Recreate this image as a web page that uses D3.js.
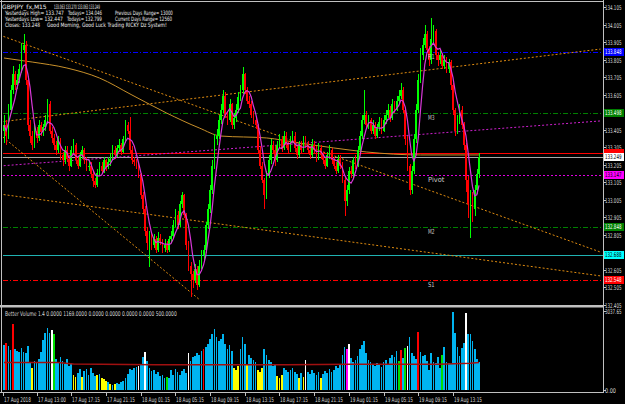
<!DOCTYPE html>
<html>
<head>
<meta charset="utf-8">
<script src="https://cdn.jsdelivr.net/npm/d3@7"></script>
<style>
html, body { margin: 0; padding: 0; background: #000; }
svg { display: block; }
text { font-family: "DejaVu Sans", sans-serif; }
</style>
</head>
<body>
<svg id="chart" width="625" height="404"></svg>
<script>
// GBPJPY M15 candles (open = previous close)
const firstOpen = 133.40;
const closes = [
    133.43,133.37,133.52,133.63,133.72,133.66,133.69,133.75,133.86,133.89,
    133.69,133.43,133.37,133.32,133.40,133.36,133.43,133.39,133.42,133.46,
    133.55,133.40,133.36,133.32,133.29,133.35,133.26,133.23,133.29,133.24,
    133.20,133.29,133.32,133.23,133.20,133.26,133.29,133.23,133.19,133.20,
    133.15,133.11,133.09,133.16,133.20,133.17,133.23,133.19,133.22,133.24,
    133.29,133.26,133.30,133.32,133.28,133.35,133.43,133.40,133.29,133.23,
    133.22,133.20,133.15,133.03,132.95,132.83,132.76,132.80,132.75,132.78,
    132.72,132.79,132.77,132.73,132.75,132.72,132.78,132.80,132.86,132.92,
    132.86,132.98,133.03,132.92,132.75,132.63,132.58,132.55,132.61,132.52,
    132.63,132.69,132.72,132.86,132.95,133.06,133.20,133.35,133.37,133.46,
    133.52,133.60,133.49,133.46,133.55,133.43,133.47,133.52,133.59,133.63,
    133.72,133.63,133.57,133.55,133.49,133.46,133.43,133.29,133.20,133.12,
    133.03,133.15,133.23,133.32,133.29,133.23,133.32,133.35,133.30,133.37,
    133.32,133.29,133.35,133.37,133.30,133.26,133.32,133.29,133.35,133.32,
    133.29,133.26,133.32,133.29,133.24,133.30,133.26,133.23,133.20,133.26,
    133.29,133.23,133.20,133.17,133.24,133.20,133.12,133.00,133.06,133.17,
    133.15,133.23,133.20,133.29,133.37,133.46,133.49,133.43,133.46,133.40,
    133.43,133.37,133.42,133.45,133.40,133.46,133.49,133.52,133.47,133.55,
    133.52,133.57,133.60,133.63,133.52,133.35,133.20,133.06,133.17,133.35,
    133.52,133.69,133.83,133.89,133.95,133.86,133.80,133.92,133.97,133.83,
    133.80,133.83,133.77,133.80,133.75,133.79,133.66,133.52,133.40,133.46,
    133.52,133.43,133.32,133.12,132.98,133.03,132.95,133.06,133.15,133.249
];
const highs = [
    133.49,133.46,133.55,133.66,133.77,133.74,133.72,133.78,133.90,133.95,
    133.91,133.71,133.46,133.40,133.43,133.42,133.46,133.45,133.44,133.49,
    133.58,133.57,133.42,133.38,133.34,133.37,133.36,133.28,133.31,133.31,
    133.26,133.31,133.35,133.33,133.25,133.28,133.31,133.30,133.25,133.23,
    133.22,133.17,133.13,133.18,133.22,133.22,133.25,133.24,133.25,133.27,
    133.32,133.31,133.32,133.35,133.33,133.37,133.46,133.45,133.48,133.31,
    133.25,133.24,133.22,133.16,133.05,132.97,132.85,132.83,132.82,132.81,
    132.80,132.82,132.81,132.78,132.78,132.77,132.80,132.83,132.89,132.95,
    132.94,133.00,133.05,133.04,132.93,132.77,132.65,132.60,132.64,132.63,
    132.66,132.72,132.75,132.88,132.98,133.09,133.23,133.38,133.41,133.49,
    133.55,133.63,133.62,133.51,133.58,133.56,133.50,133.55,133.62,133.66,
    133.76,133.73,133.65,133.60,133.57,133.51,133.48,133.44,133.31,133.22,
    133.13,133.17,133.26,133.35,133.34,133.31,133.34,133.38,133.37,133.40,
    133.39,133.34,133.37,133.40,133.39,133.32,133.34,133.34,133.37,133.37,
    133.34,133.31,133.35,133.34,133.31,133.33,133.32,133.28,133.25,133.28,
    133.32,133.30,133.25,133.22,133.26,133.26,133.22,133.14,133.09,133.19,
    133.20,133.25,133.26,133.31,133.40,133.49,133.63,133.51,133.49,133.47,
    133.46,133.45,133.44,133.48,133.47,133.49,133.52,133.55,133.54,133.58,
    133.57,133.60,133.63,133.67,133.65,133.53,133.37,133.21,133.20,133.38,
    133.55,133.72,133.87,133.93,134.00,133.97,133.88,134.04,134.00,133.98,
    133.85,133.86,133.84,133.83,133.82,133.81,133.80,133.67,133.53,133.49,
    133.55,133.54,133.45,133.33,133.14,133.06,133.05,133.09,133.18,133.27
];
const lows = [
    133.33,133.32,133.35,133.50,133.61,133.63,133.64,133.67,133.73,133.84,
    133.66,133.40,133.33,133.29,133.30,133.33,133.34,133.37,133.37,133.40,
    133.44,133.38,133.33,133.29,133.26,133.27,133.23,133.20,133.21,133.22,
    133.17,133.19,133.27,133.21,133.18,133.19,133.24,133.21,133.17,133.17,
    133.13,133.08,133.07,133.08,133.14,133.15,133.16,133.17,133.18,133.20,
    133.23,133.24,133.25,133.28,133.26,133.27,133.33,133.38,133.27,133.21,
    133.20,133.18,133.13,133.01,132.93,132.80,132.72,132.62,132.72,132.73,
    132.70,132.71,132.75,132.70,132.71,132.70,132.71,132.76,132.79,132.85,
    132.84,132.85,132.96,132.90,132.72,132.60,132.45,132.50,132.53,132.49,
    132.51,132.61,132.66,132.70,132.84,132.93,133.04,133.18,133.32,133.35,
    133.44,133.50,133.47,133.43,133.45,133.41,133.41,133.45,133.50,133.57,
    133.61,133.61,133.55,133.53,133.47,133.44,133.41,133.27,133.18,133.10,
    132.95,133.01,133.13,133.21,133.27,133.20,133.22,133.30,133.28,133.29,
    133.30,133.27,133.28,133.33,133.28,133.24,133.25,133.27,133.28,133.30,
    133.27,133.24,133.25,133.27,133.22,133.23,133.24,133.21,133.18,133.19,
    133.24,133.21,133.18,133.15,133.16,133.18,133.10,132.91,132.97,133.04,
    133.13,133.13,133.18,133.19,133.27,133.35,133.44,133.41,133.41,133.38,
    133.38,133.35,133.36,133.40,133.38,133.39,133.44,133.47,133.45,133.46,
    133.50,133.51,133.55,133.58,133.50,133.32,133.17,133.03,133.04,133.15,
    133.33,133.50,133.67,133.80,133.87,133.84,133.77,133.78,133.90,133.80,
    133.77,133.78,133.75,133.75,133.73,133.73,133.63,133.49,133.37,133.38,
    133.44,133.41,133.29,133.05,132.90,132.79,132.88,132.91,133.04,133.13
];

// Better Volume bars
const volumes = [
    1716,1794,1677,1521,2535,1560,1482,1443,1599,1443,
    1404,1677,1053,858,1131,1053,1209,1443,1911,2184,
    2379,2184,2301,2145,1209,1053,1287,1131,1014,1209,
    936,1053,585,507,663,819,507,741,819,585,
    858,663,546,585,624,468,429,351,312,234,
    195,234,273,234,312,351,468,624,819,780,
    858,897,936,1014,1287,1443,1131,858,741,780,
    624,702,546,585,468,507,468,780,585,819,
    702,585,741,819,663,1404,1131,1287,1326,1404,
    1365,1482,1560,1638,1755,1950,2145,2340,2028,1872,
    1950,2145,1755,1560,1716,1482,858,780,936,1560,
    2028,1755,975,1365,1248,1170,1092,780,702,858,
    1560,1365,1170,1092,936,1014,546,468,585,858,
    780,702,780,858,702,624,468,663,507,1170,
    702,624,780,663,585,702,468,624,741,663,
    819,702,780,936,858,1014,1365,1638,1560,1755,
    1248,1092,1170,1326,1560,1716,1872,1404,1170,1092,
    1014,936,1053,975,897,1092,1170,1014,1248,1365,
    1287,1482,1131,1521,1248,1599,1677,2028,1404,1326,
    1209,2223,1443,1326,1365,1131,780,1404,1092,1053,
    1287,858,1365,1638,1092,1053,1014,3003,2184,1638,
    1326,1599,1794,2964,2145,2145,1872,1560,1209,1092
];
const volRed = [1, 4, 92, 183, 191];
const volYellow = [13, 32, 33, 36, 43, 45, 46, 47, 49, 51, 106, 107, 108, 112, 117, 118, 119, 126, 127, 128, 136, 138, 146];
const volWhite = [22, 62, 65, 85, 139, 159, 186, 213];
const volGreen = [23, 75, 182, 185, 202];
const volMagenta = [158];
// flat red average line of the volume window: [bar, volume]
const volAverage = [[0, 1053], [25, 1053], [32, 1000], [70, 975], [130, 975], [160, 990], [200, 990], [215, 1030], [219, 1053]];

// slow moving average (orange curve): [bar, price]
const slowAverage = [[0, 133.814], [13, 133.791], [29, 133.757], [44, 133.700], [59, 133.603], [75, 133.500], [90, 133.415], [100, 133.369], [121, 133.358], [136, 133.329], [152, 133.301], [167, 133.278], [192, 133.261], [219, 133.261]];

// trend lines: [bar1, price1, bar2, price2]
const orangeLines = [
    [-2, 133.945, 275, 132.707],
    [-2, 133.449, 275, 133.865],
    [-0.5, 133.363, 90.3, 132.434],
    [-2, 133.038, 275, 132.571]
];
const magentaLine = [-2, 133.198, 275, 133.455];

// pivot levels and price lines
const levelNames = ['R1', 'M3', '', '', 'Pivot', 'M2', '', 'S1'];
const levelValues = [133.848, 133.498, 133.270, 133.249, 133.147, 132.848, 132.688, 132.548];
const levelColors = ['#0000ff', '#008000', '#ff0000', '#a8a8a8', '#e000e0', '#008000', '#20b2b2', '#ff0000'];
const levelDash = ['5,2,1,2', '5,2,1,2', null, null, '2,2', '5,2,1,2', null, '5,2,1,2'];
const levelBoxes = ['#0000ff', '#008000', '#ff0000', '#ffffff', '#ff00ff', '#008000', '#00ffff', '#ff0000'];
const levelBoxText = ['#ffffff', '#ffffff', null, '#000000', '#000000', '#ffffff', '#000000', '#ffffff'];

const priceTicks = [134.105, 134.005, 133.905, 133.805, 133.705, 133.605, 133.505, 133.405, 133.305, 133.205, 133.105, 133.005, 132.905, 132.805, 132.705, 132.605, 132.505, 132.405];
const timeTickBars = [0, 15, 31, 47, 63, 79, 95, 111, 127, 143, 159, 175, 191, 207];
const timeLabels = ['17 Aug 2018', '17 Aug 13:00', '17 Aug 17:15', '17 Aug 21:15', '18 Aug 01:15', '18 Aug 05:15', '18 Aug 09:15', '18 Aug 13:15', '18 Aug 17:15', '18 Aug 21:15', '19 Aug 01:15', '19 Aug 05:15', '19 Aug 09:15', '19 Aug 13:15'];
const volTicks = [3037.65, 0];

const headerLines = [
    ['GBPJPY_fx,M15', 2, 8.5, 47],
    ['133.063 133.270 133.063 133.249', 54, 8.5, 46],
    ['Yesterdays High= 133.747', 5, 14.5, 59],
    ['Todays=   134.046', 68, 14.5, 34],
    ['Previous Days Range= 13000', 115, 14.5, 58],
    ['Yesterdays Low= 132.447', 5, 20.5, 58],
    ['Todays=   132.799', 67, 20.5, 35],
    ['Current Days Range= 12560', 115, 20.5, 57],
    ['Closes: 133.248', 5, 26.5, 35],
    ['Good Morning, Good Luck Trading RICKY Dz System!', 47, 26.5, 120]
];

const p = {
    left: 3, right: 603,
    mainTop: 2, mainBottom: 305,
    volTop: 308, volBottom: 392,
    frame: '#c0c0c0',
    text: '#d8d8d8',
    up: '#00ff00', down: '#ff0000',
    volBlue: '#00b4f0',
}

const svg = d3.select('#chart');
const x = d3.scaleLinear().domain([0, closes.length - 1]).range([4, 479]);
const y = d3.scaleLinear().domain([132.405, 134.105]).range([305, 7]);
const yv = d3.scaleLinear().domain([0, 3037.65]).range([390, 311]);

// squeeze a text to the width it has in the picture (tiny MT4 font)
function addText(parent, str, tx, ty, width, size, color) {
    const t = parent.append('text')
        .attr('font-size', size).attr('fill', color)
        .text(str);
    const w = t.node().getComputedTextLength();
    const s = Math.min(1, width / w);
    t.attr('transform', 'translate(' + tx + ',' + ty + ') scale(' + s + ',1)');
    return t;
}

function clip(id, top, bottom) {
    svg.select('defs').append('clipPath').attr('id', id)
        .append('rect')
        .attr('x', p.left).attr('y', top)
        .attr('width', p.right - p.left).attr('height', bottom - top);
}

function volColor(i) {
    if (volRed.includes(i)) return '#ff0000';
    if (volYellow.includes(i)) return '#ffff00';
    if (volWhite.includes(i)) return '#ffffff';
    if (volGreen.includes(i)) return '#00e000';
    if (volMagenta.includes(i)) return '#ff00ff';
    return p.volBlue;
}

function drawFrame() {
    svg.append('rect').attr('width', 625).attr('height', 404).attr('fill', '#000');
    svg.append('defs');
    clip('clipMain', p.mainTop, p.mainBottom);
    clip('clipVol', p.volTop, p.volBottom);
}

function drawLevels(g) {
    levelValues.forEach((v, k) => {
        g.append('line')
            .attr('x1', p.left).attr('x2', p.right)
            .attr('y1', Math.round(y(v)) + 0.5).attr('y2', Math.round(y(v)) + 0.5)
            .attr('stroke', levelColors[k])
            .attr('stroke-dasharray', levelDash[k])
            .attr('stroke-width', 1);
    });

    const trend = d3.line().x(d => x(d[0])).y(d => y(d[1]));
    orangeLines.forEach(l => {
        g.append('path')
            .attr('d', trend([[l[0], l[1]], [l[2], l[3]]]))
            .attr('stroke', '#e08c10').attr('stroke-width', 1)
            .attr('stroke-dasharray', '2,2').attr('fill', 'none');
    });
    g.append('path')
        .attr('d', trend([[magentaLine[0], magentaLine[1]], [magentaLine[2], magentaLine[3]]]))
        .attr('stroke', '#d020d0').attr('stroke-width', 1)
        .attr('stroke-dasharray', '2,2').attr('fill', 'none');

    g.append('path')
        .attr('d', d3.line().x(d => x(d[0])).y(d => y(d[1])).curve(d3.curveMonotoneX)(slowAverage))
        .attr('stroke', '#c8902a').attr('stroke-width', 1).attr('fill', 'none');
}

function drawCandles(g) {
    const bars = closes.map((c, i) => ({
        i: i, o: i === 0 ? firstOpen : closes[i - 1], c: c, h: highs[i], l: lows[i]
    }));
    const cg = g.append('g').attr('shape-rendering', 'crispEdges');
    cg.selectAll('line.wick').data(bars).enter()
        .append('line')
        .attr('x1', d => Math.round(x(d.i)) + 0.5)
        .attr('x2', d => Math.round(x(d.i)) + 0.5)
        .attr('y1', d => y(d.h))
        .attr('y2', d => y(d.l))
        .attr('stroke', d => d.c >= d.o ? p.up : p.down);
    cg.selectAll('rect.body').data(bars).enter()
        .append('rect')
        .attr('x', d => x(d.i) - 0.8)
        .attr('width', 1.8)
        .attr('y', d => y(Math.max(d.o, d.c)))
        .attr('height', d => Math.max(1, Math.abs(y(d.o) - y(d.c))))
        .attr('fill', d => d.c >= d.o ? p.up : p.down);

    // fast average following the price
    const fast = closes.map((c, i) => d3.mean(closes.slice(Math.max(0, i - 4), i + 1)));
    g.append('path')
        .attr('d', d3.line().x((d, i) => x(i)).y(d => y(d))(fast))
        .attr('stroke', '#d838d8').attr('stroke-width', 1.2).attr('fill', 'none');
}

function drawLevelLabels() {
    levelNames.forEach((n, k) => {
        if (!n) return;
        addText(svg, n, 428, Math.round(y(levelValues[k])) + 7, n.length * 3.3, 7, '#c8c8c8');
    });
}

function drawVolume() {
    const g = svg.append('g').attr('clip-path', 'url(#clipVol)');
    g.append('g').attr('shape-rendering', 'crispEdges')
        .selectAll('rect').data(volumes).enter()
        .append('rect')
        .attr('x', (d, i) => x(i) - 0.8)
        .attr('width', 1.7)
        .attr('y', d => yv(d))
        .attr('height', d => yv(0) - yv(d))
        .attr('fill', (d, i) => volColor(i));
    g.append('path')
        .attr('d', d3.line().x(d => x(d[0])).y(d => yv(d[1]))(volAverage))
        .attr('stroke', '#a01010').attr('stroke-width', 1.5).attr('fill', 'none');

    addText(svg, 'Better Volume 1.4 0.0000 1169.0000 0.0000 0.0000 0.0000 0.0000 500.0000',
        5, 315.5, 172, 6.5, p.text);
}

function drawAxes() {
    const fmt = d3.format('.3f');
    // borders
    svg.append('line').attr('x1', 1.5).attr('x2', 1.5).attr('y1', 0).attr('y2', p.volBottom)
        .attr('stroke', p.frame);
    svg.append('line').attr('x1', 0).attr('x2', p.right).attr('y1', 1.5).attr('y2', 1.5)
        .attr('stroke', p.frame);
    svg.append('line').attr('x1', p.right + 0.5).attr('x2', p.right + 0.5).attr('y1', 0).attr('y2', p.volBottom + 1)
        .attr('stroke', p.frame);
    svg.append('rect').attr('x', 0).attr('y', 305).attr('width', p.right).attr('height', 2.5)
        .attr('fill', p.frame);
    svg.append('line').attr('x1', 0).attr('x2', p.right).attr('y1', p.volBottom + 0.5).attr('y2', p.volBottom + 0.5)
        .attr('stroke', p.frame);

    // price scale; a label under a coloured box is hidden, as in the terminal
    const boxYs = levelValues.map(v => y(v));
    priceTicks.forEach(v => {
        const yy = Math.round(y(v)) + 0.5;
        svg.append('line').attr('x1', p.right).attr('x2', p.right + 3).attr('y1', yy).attr('y2', yy)
            .attr('stroke', p.frame);
        if (boxYs.some(b => Math.abs(b - yy) < 5.5)) return;
        addText(svg, fmt(v), 605, yy + 2.2, 16.5, 6.5, p.text);
    });

    // coloured price boxes
    levelValues.forEach((v, k) => {
        const yy = Math.round(y(v));
        svg.append('rect').attr('x', 604).attr('y', yy - 4).attr('width', 20).attr('height', 8)
            .attr('fill', levelBoxes[k]);
        if (levelBoxText[k]) addText(svg, fmt(v), 605, yy + 2.2, 16.5, 6.5, levelBoxText[k]);
    });

    // volume scale
    const vf = d3.format('.2f');
    volTicks.forEach(v => {
        const yy = Math.round(yv(v)) + 0.5;
        svg.append('line').attr('x1', p.right).attr('x2', p.right + 3).attr('y1', yy).attr('y2', yy)
            .attr('stroke', p.frame);
        addText(svg, vf(v), 605, yy + 2.5, v === 0 ? 11 : 16.5, 6.5, p.text);
    });

    // time scale
    timeTickBars.forEach((b, k) => {
        const xx = k === 0 ? 3 : Math.round(x(b));
        svg.append('line').attr('x1', xx + 0.5).attr('x2', xx + 0.5)
            .attr('y1', p.volBottom).attr('y2', p.volBottom + 4)
            .attr('stroke', p.frame);
        addText(svg, timeLabels[k], xx + 1, 401.5, k === 0 ? 27 : 28, 6.5, p.text);
    });
}

function drawHeader() {
    headerLines.forEach(d => {
        addText(svg, d[0], d[1], d[2], d[3], 6, '#f0f0f0');
    });
}

drawFrame();
const main = svg.append('g').attr('clip-path', 'url(#clipMain)');
drawLevels(main);
drawCandles(main);
drawLevelLabels();
drawVolume();
drawAxes();
drawHeader();
</script>
</body>
</html>
